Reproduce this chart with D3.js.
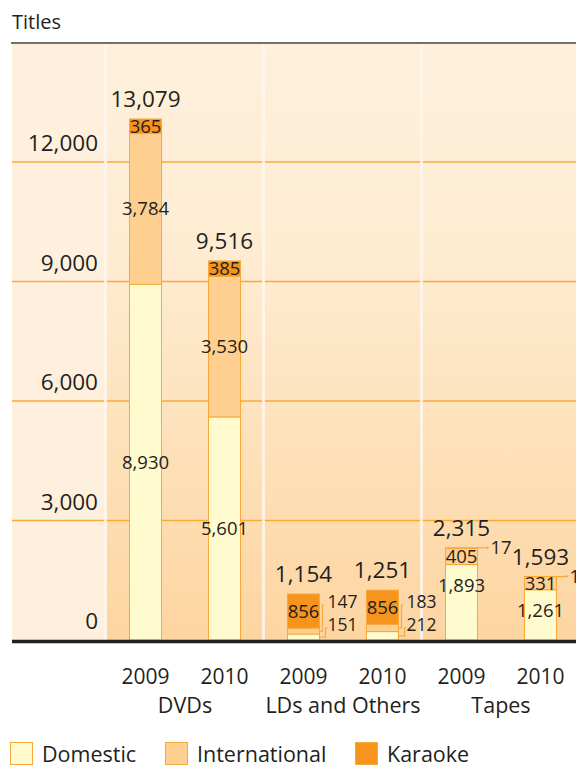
<!DOCTYPE html>
<html>
<head>
<meta charset="utf-8">
<script src="https://cdn.jsdelivr.net/npm/d3@7"></script>
<style>
  body { margin: 0; background: #fff; }
  text { font-family: "Open Sans", sans-serif; fill: #231f20; }
</style>
</head>
<body>
<div id="chart"></div>
<script>
const categories = ["DVDs", "LDs and Others", "Tapes"];
const years = ["2009", "2010"];
const domestic = [8930, 5601, 151, 212, 1893, 1261];
const international = [3784, 3530, 147, 183, 405, 331];
const karaoke = [365, 385, 856, 856, 17, 1];
const totals = [13079, 9516, 1154, 1251, 2315, 1593];
const yTicks = [0, 3000, 6000, 9000, 12000];
const seriesNames = ["Domestic", "International", "Karaoke"];

const W = 576, H = 767;
const colors = { Domestic: "#fffbcf", International: "#fecf8f", Karaoke: "#f7941d" };
const barStroke = "#f9a93b";
const fmt = d3.format(",");

const svg = d3.select("#chart").append("svg")
    .attr("width", W).attr("height", H);

// one key per bar
const keys = [];
categories.forEach(c => years.forEach(yr => keys.push(c + "|" + yr)));

const plotLeft = 106, plotRight = 580, plotTop = 44;
const x = d3.scalePoint().domain(keys).range([plotLeft, plotRight]).padding(0.5);
const step = x.step();
const barW = 32;
const y = d3.scaleLinear().domain([0, 12000]).range([640, 162]);

// background
const defs = svg.append("defs");
const grad = defs.append("linearGradient").attr("id", "bg")
    .attr("x1", 0).attr("y1", 0).attr("x2", 0).attr("y2", 1);
grad.append("stop").attr("offset", "0%").attr("stop-color", "#fef0dc");
grad.append("stop").attr("offset", "35%").attr("stop-color", "#feecd2");
grad.append("stop").attr("offset", "100%").attr("stop-color", "#fdd5a1");

svg.append("rect").attr("x", 12).attr("y", plotTop)
    .attr("width", plotLeft - 12).attr("height", y(0) - plotTop)
    .attr("fill", "#fef0dc");
svg.append("rect").attr("x", plotLeft).attr("y", plotTop)
    .attr("width", W - plotLeft).attr("height", y(0) - plotTop)
    .attr("fill", "url(#bg)");

// gridlines
svg.append("g").selectAll("line")
    .data(yTicks.filter(d => d > 0))
    .join("line")
    .attr("x1", 12).attr("x2", W)
    .attr("y1", d => y(d)).attr("y2", d => y(d))
    .attr("stroke", "#f9ab3a").attr("stroke-width", 1.3);

// group separators
const seps = [0, 2, 4].map(i => x(keys[i]) - step / 2);
svg.append("g").selectAll("rect")
    .data(seps)
    .join("rect")
    .attr("x", d => d - 2).attr("y", plotTop)
    .attr("width", 3).attr("height", y(0) - plotTop)
    .attr("fill", "#fff6ea").attr("opacity", 0.85);

// tick labels
svg.append("g").selectAll("text")
    .data(yTicks)
    .join("text")
    .attr("x", 98).attr("y", d => y(d) - 11)
    .attr("text-anchor", "end")
    .style("font-size", "22.5px")
    .text(d => fmt(d));

// stacked bars
const rows = keys.map((k, i) => ({
    key: k, i,
    values: [domestic[i], international[i], karaoke[i]]
}));

const gBars = svg.append("g");
rows.forEach(r => {
    let acc = 0;
    const cx = x(r.key);
    const left = cx - barW / 2, right = cx + barW / 2;
    const segs = r.values.map((v, s) => {
        const seg = { name: seriesNames[s], v, y0: acc, y1: acc + v };
        acc += v;
        return seg;
    });
    gBars.selectAll(null)
        .data(segs)
        .enter().append("rect")
        .attr("x", left).attr("width", barW)
        .attr("y", d => y(d.y1))
        .attr("height", d => y(d.y0) - y(d.y1))
        .attr("fill", d => colors[d.name])
        .attr("stroke", barStroke).attr("stroke-width", 1);

    segs.forEach((d, s) => {
        const top = y(d.y1), bot = y(d.y0), h = bot - top;
        if (h >= 12) {
            const mid = (top + bot) / 2;
            const ty = h < 100 ? Math.min(mid, top + 21) : mid;
            gBars.append("text")
                .attr("x", cx).attr("y", ty).attr("dy", "0.35em")
                .attr("text-anchor", "middle")
                .style("font-size", "18.5px")
                .text(fmt(d.v));
        } else if (s === segs.length - 1) {
            // tiny top segment: horizontal leader from bar top
            gBars.append("line")
                .attr("x1", right).attr("x2", right + 10)
                .attr("y1", top).attr("y2", top)
                .attr("stroke", barStroke).attr("stroke-width", 1.2);
            gBars.append("circle").attr("cx", right + 10).attr("cy", top).attr("r", 1.3)
                .attr("fill", barStroke);
            gBars.append("text")
                .attr("x", right + 13).attr("y", top).attr("dy", "0.35em")
                .style("font-size", "18.5px")
                .text(fmt(d.v));
        } else {
            // small lower segments: bracket leaders to stacked side labels
            const mid = (top + bot) / 2;
            const ly = y(0) - (s === 0 ? 15 : 38);
            const lx = right + (s === 0 ? 6 : 3);
            gBars.append("path")
                .attr("d", `M${right},${mid}H${lx}V${ly + 3}H${lx + 2}`)
                .attr("fill", "none")
                .attr("stroke", barStroke).attr("stroke-width", 1.2);
            gBars.append("text")
                .attr("x", right + 8).attr("y", ly).attr("dy", "0.35em")
                .style("font-size", "17.5px")
                .text(fmt(d.v));
        }
    });

    gBars.append("text")
        .attr("x", cx).attr("y", y(totals[r.i]) - 12)
        .attr("text-anchor", "middle")
        .style("font-size", "22.5px")
        .text(fmt(totals[r.i]));
});

// baseline and top rule
svg.append("line").attr("x1", 12).attr("x2", W).attr("y1", 641.5).attr("y2", 641.5)
    .attr("stroke", "#231f20").attr("stroke-width", 3.5);
svg.append("line").attr("x1", 11).attr("x2", W).attr("y1", 43).attr("y2", 43)
    .attr("stroke", "#767068").attr("stroke-width", 2);

// title
svg.append("text").attr("x", 12).attr("y", 29)
    .style("font-size", "20px").text("Titles");

// x labels
svg.append("g").selectAll("text")
    .data(keys)
    .join("text")
    .attr("x", d => x(d)).attr("y", 684)
    .attr("text-anchor", "middle")
    .style("font-size", "21px")
    .text(d => d.split("|")[1]);

svg.append("g").selectAll("text")
    .data(categories)
    .join("text")
    .attr("x", (c, i) => (x(keys[i * 2]) + x(keys[i * 2 + 1])) / 2)
    .attr("y", 713)
    .attr("text-anchor", "middle")
    .style("font-size", "21.5px")
    .text(c => c);

// legend
const legX = [10, 165, 355];
const leg = svg.append("g").selectAll("g")
    .data(seriesNames)
    .join("g")
    .attr("transform", (d, i) => `translate(${legX[i]},742)`);
leg.append("rect").attr("x", 0.5).attr("y", 0.5).attr("width", 22).attr("height", 22)
    .attr("fill", d => colors[d]).attr("stroke", barStroke);
leg.append("text").attr("x", 32).attr("y", 20)
    .style("font-size", "21.5px").text(d => d);
</script>
</body>
</html>
